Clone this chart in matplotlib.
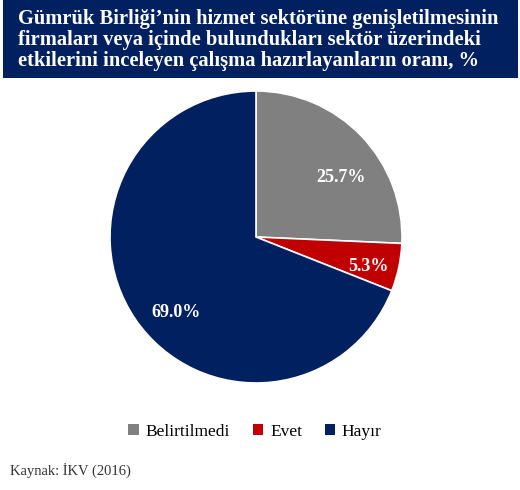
import matplotlib.pyplot as plt
from matplotlib.patches import Rectangle, Patch

labels = ['Belirtilmedi', 'Evet', 'Hayır']
values = [25.7, 5.3, 69.0]
colors = ['#808080', '#C00000', '#002060']

title = ('Gümrük Birliği’nin hizmet sektörüne genişletilmesinin\n'
         'firmaları veya içinde bulundukları sektör üzerindeki\n'
         'etkilerini inceleyen çalışma hazırlayanların oranı, %')
source = 'Kaynak: İKV (2016)'

W, H = 520, 490
fig = plt.figure(figsize=(W / 100, H / 100), dpi=100)
fig.patch.set_facecolor('white')
serif = 'Liberation Serif'

# title band
fig.patches.append(Rectangle((3 / W, 1 - 78 / H), 515 / W, 78 / H,
                             transform=fig.transFigure, facecolor='#002060',
                             edgecolor='none', zorder=0))
fig.text(18 / W, 1 - 40 / H, title, color='white', fontsize=14.8,
         fontweight='bold', family=serif, va='center', ha='left',
         linespacing=1.08)

# pie
cx, cy, r = 256, 237, 146
ax = fig.add_axes([(cx - r) / W, 1 - (cy + r) / H, 2 * r / W, 2 * r / H])
wedges, texts = ax.pie(values, colors=colors, startangle=90, counterclock=False,
                       wedgeprops=dict(edgecolor='white', linewidth=1.2))
ax.set_aspect('equal')
ax.set_xlim(-1, 1)
ax.set_ylim(-1, 1)

label_pos = [(0.58, 0.41), (0.77, -0.20), (-0.55, -0.52)]
for v, (x, y) in zip(values, label_pos):
    ax.text(x, y, f'{v:.1f}%', color='white', fontsize=13, fontweight='bold',
            family=serif, ha='center', va='center')

handles = [Patch(facecolor=c, edgecolor='none') for c in colors]
fig.legend(handles, labels, loc='center', bbox_to_anchor=(255 / W, 1 - 432 / H),
           ncol=3, frameon=False, prop={'family': serif, 'size': 12.5},
           handlelength=0.6, handleheight=0.6, handletextpad=0.4,
           columnspacing=1.3)

fig.text(10 / W, 1 - 470 / H, source, color='#333333', fontsize=10.5,
         family=serif, va='center', ha='left')

fig.savefig('out.png', dpi=100)
